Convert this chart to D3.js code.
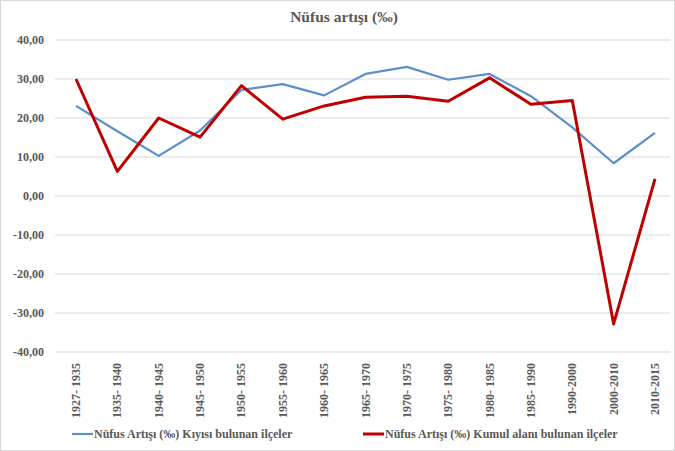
<!DOCTYPE html>
<html>
<head>
<meta charset="utf-8">
<script src="https://cdn.jsdelivr.net/npm/d3@7"></script>
<style>
  body { margin: 0; background: #fff; }
  text { font-family: "Liberation Serif", "Times New Roman", serif; font-weight: bold; fill: #595959; }
</style>
</head>
<body>
<script>
const periods = ["1927-1935", "1935-1940", "1940-1945", "1945-1950", "1950-1955", "1955-1960", "1960-1965",
  "1965-1970", "1970-1975", "1975-1980", "1980-1985", "1985-1990", "1990-2000", "2000-2010", "2010-2015"];
const periodLabels = ["1927- 1935", "1935- 1940", "1940- 1945", "1945- 1950", "1950- 1955", "1955- 1960", "1960- 1965",
  "1965- 1970", "1970- 1975", "1975- 1980", "1980- 1985", "1985- 1990", "1990-2000", "2000-2010", "2010-2015"];
const kiyi = [23.1, 16.6, 10.3, 16.8, 27.2, 28.7, 25.8, 31.3, 33.1, 29.8, 31.3, 25.6, 17.6, 8.4, 16.2];
const kumul = [30.0, 6.3, 20.0, 15.1, 28.3, 19.7, 23.1, 25.3, 25.6, 24.3, 30.3, 23.5, 24.5, -32.8, 4.4];
const yTicks = [40, 30, 20, 10, 0, -10, -20, -30, -40];
const seriesNames = ["Nüfus Artışı (‰) Kıyısı bulunan ilçeler", "Nüfus Artışı (‰) Kumul alanı bulunan ilçeler"];
const colors = ["#5b8fc9", "#c00000"];

const W = 675, H = 451;
const svg = d3.select("body").append("svg").attr("width", W).attr("height", H);

svg.append("rect").attr("x", 0.5).attr("y", 0.5).attr("width", W - 1).attr("height", H - 1)
  .attr("fill", "#fff").attr("stroke", "#d9d9d9");

const x = d3.scalePoint().domain(periods).range([76, 655]);
const y = d3.scaleLinear().domain([-40, 40]).range([352, 40]);

svg.append("text").attr("x", 344).attr("y", 22).attr("text-anchor", "middle")
  .style("font-size", "15.5px").text("Nüfus artışı (‰)");

// grid
svg.append("g").selectAll("line").data(yTicks).join("line")
  .attr("x1", 55).attr("x2", 670)
  .attr("y1", d => y(d)).attr("y2", d => y(d))
  .attr("stroke", "#d9d9d9").attr("stroke-width", 1);

const fmt = d => d3.format(".2f")(d).replace(".", ",").replace("−", "-");
svg.append("g").selectAll("text").data(yTicks).join("text")
  .attr("x", 44).attr("y", d => y(d)).attr("dy", "0.35em").attr("text-anchor", "end")
  .style("font-size", "12px").text(fmt);

svg.append("g").selectAll("text").data(periods).join("text")
  .attr("transform", d => `translate(${x(d) + 4},363) rotate(-90)`)
  .attr("text-anchor", "end").style("font-size", "12px")
  .text((d, i) => periodLabels[i]);

const line = d3.line().x((d, i) => x(periods[i])).y(d => y(d));
svg.append("path").datum(kiyi).attr("d", line).attr("fill", "none")
  .attr("stroke", colors[0]).attr("stroke-width", 2.2).attr("stroke-linejoin", "round");
svg.append("path").datum(kumul).attr("d", line).attr("fill", "none")
  .attr("stroke", colors[1]).attr("stroke-width", 3).attr("stroke-linejoin", "round");

// legend
const legX = [72, 363];
const leg = svg.append("g").selectAll("g").data(seriesNames).join("g")
  .attr("transform", (d, i) => `translate(${legX[i]},434)`);
leg.append("line").attr("x1", 0).attr("x2", 21).attr("y1", 0).attr("y2", 0)
  .attr("stroke", (d, i) => colors[i]).attr("stroke-width", (d, i) => i ? 3 : 2.2);
leg.append("text").attr("x", 22).attr("dy", "0.35em").style("font-size", "12px").text(d => d);
</script>
</body>
</html>
